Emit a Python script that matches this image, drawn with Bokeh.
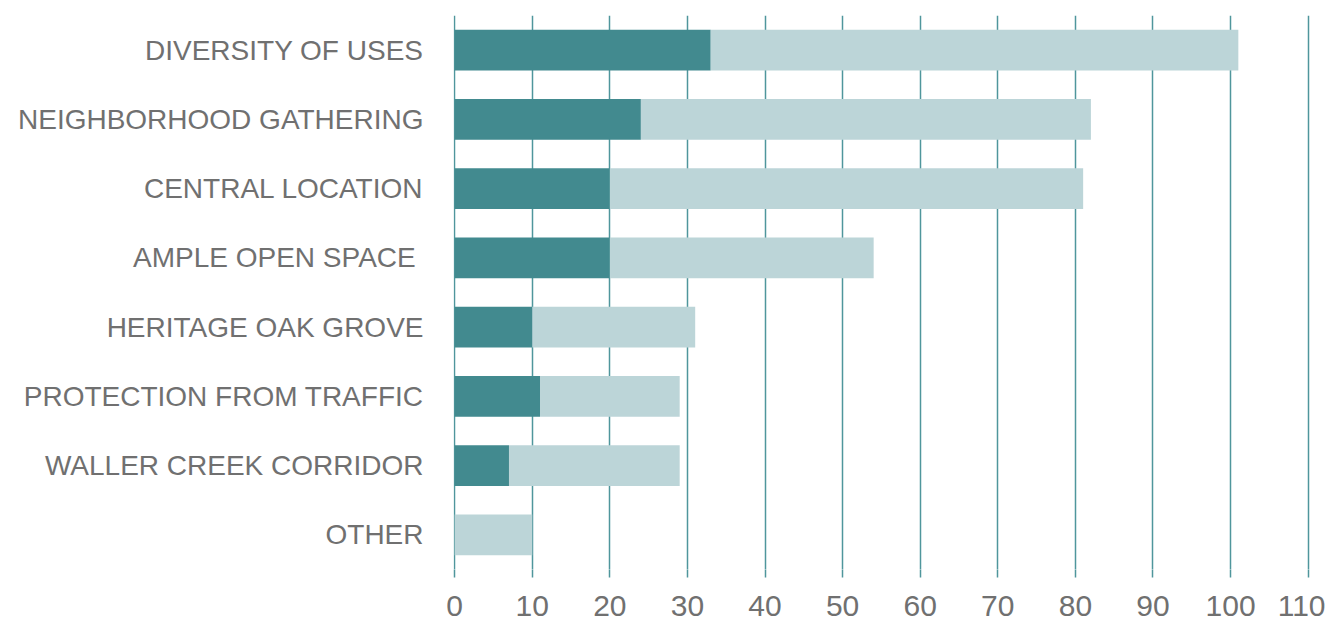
from bokeh.plotting import figure
from bokeh.models import FactorRange, Range1d, FixedTicker, ColumnDataSource
from bokeh.embed import file_html
from bokeh.resources import INLINE

categories = ["DIVERSITY OF USES", "NEIGHBORHOOD GATHERING", "CENTRAL LOCATION",
              "AMPLE  OPEN SPACE", "HERITAGE OAK GROVE", "PROTECTION FROM TRAFFIC",
              "WALLER CREEK CORRIDOR", "OTHER"]
dark = [33, 24, 20, 20, 10, 11, 7, 0]
light = [68, 58, 61, 34, 21, 18, 22, 10]
x_ticks = [0, 10, 20, 30, 40, 50, 60, 70, 80, 90, 100, 110]

DARK = "#428a8f"
LIGHT = "#bcd5d8"
GRID = "#4f969c"
TEXT = "#707070"

src = ColumnDataSource(dict(cat=categories, dark=dark, light=light))

p = figure(width=1325, height=625, output_backend="svg", toolbar_location=None,
           y_range=FactorRange(factors=list(reversed(categories))),
           x_range=Range1d(-0.15, 110.3),
           min_border_left=453, min_border_right=15, min_border_top=15, min_border_bottom=56)

p.hbar_stack(["dark", "light"], y="cat", height=0.59, color=[DARK, LIGHT], source=src,
             line_width=0)

p.outline_line_color = None
p.background_fill_color = "white"
p.border_fill_color = "white"

p.xgrid.ticker = FixedTicker(ticks=x_ticks)
p.xgrid.grid_line_color = GRID
p.xgrid.grid_line_width = 1.5
p.ygrid.grid_line_color = None

p.xaxis.ticker = FixedTicker(ticks=x_ticks)
p.xaxis.axis_line_color = None
p.xaxis.major_tick_line_color = GRID
p.xaxis.major_tick_line_width = 1.5
p.xaxis.major_tick_out = 8
p.xaxis.major_tick_in = 0
p.xaxis.minor_tick_line_color = None
p.xaxis.major_label_standoff = 18
p.xaxis.major_label_text_font = "Liberation Sans"
p.xaxis.major_label_text_font_size = "30px"
p.xaxis.major_label_text_color = TEXT

p.yaxis.axis_line_color = None
p.yaxis.major_tick_line_color = None
p.yaxis.minor_tick_line_color = None
p.yaxis.major_tick_out = 0
p.yaxis.major_tick_in = 0
p.yaxis.major_label_standoff = 30
p.yaxis.major_label_text_font = "Liberation Sans"
p.yaxis.major_label_text_font_size = "28px"
p.yaxis.major_label_text_color = TEXT
# keep the wide gap of "AMPLE  OPEN SPACE" visible (a plain double space collapses)
p.yaxis.major_label_overrides = {c: c.replace("  ", "\u00a0 ") for c in categories if "  " in c}

open("out.html", "w").write(file_html(p, INLINE))
